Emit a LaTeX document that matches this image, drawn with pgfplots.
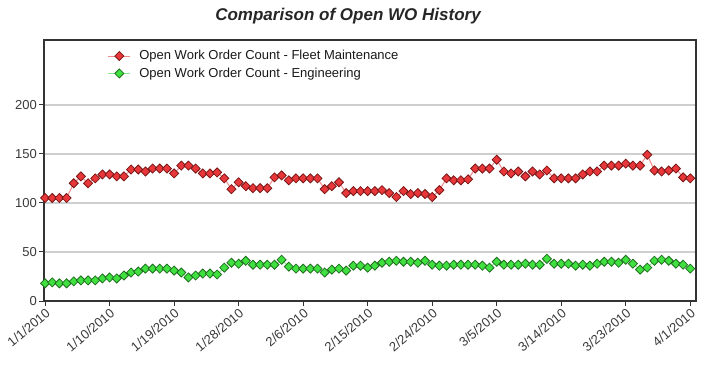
\documentclass[border=0pt]{standalone}
\usepackage{fontspec}
\setmainfont{Liberation Sans}
\usepackage{pgfplots}
\usepackage{pgfplotstable}
\pgfplotsset{compat=1.18}
\definecolor{fmfill}{HTML}{E8373A}
\definecolor{fmdraw}{HTML}{7A1515}
\definecolor{fmline}{HTML}{F08A8A}
\definecolor{enfill}{HTML}{3FE03F}
\definecolor{endraw}{HTML}{1E6E1E}
\definecolor{enline}{HTML}{8CE88C}
\definecolor{gridgray}{HTML}{CFCFCF}
\definecolor{ticktext}{HTML}{3A3A3A}

\pgfplotstableread{
day fleet eng
0 105 18
1 105 19
2 105 18
3 105 18
4 120 20
5 127 21
6 120 21
7 125 21
8 129 23
9 129 24
10 127 23
11 127 26
12 134 29
13 134 30
14 132 33
15 135 33
16 135 33
17 135 33
18 130 31
19 138 29
20 138 24
21 135 26
22 130 28
23 130 28
24 131 27
25 125 34
26 114 39
27 121 38
28 117 41
29 115 37
30 115 37
31 115 37
32 126 37
33 128 42
34 123 35
35 125 33
36 125 33
37 125 33
38 125 33
39 114 29
40 117 32
41 121 33
42 110 31
43 112 36
44 112 36
45 112 34
46 112 36
47 113 39
48 110 40
49 106 41
50 112 40
51 109 40
52 110 39
53 109 41
54 106 37
55 113 36
56 125 36
57 123 37
58 123 37
59 124 37
60 135 37
61 135 36
62 135 34
63 144 40
64 132 37
65 130 37
66 132 37
67 127 38
68 132 37
69 129 37
70 133 43
71 125 38
72 125 38
73 125 38
74 125 36
75 129 37
76 132 36
77 132 38
78 138 40
79 138 40
80 138 39
81 140 42
82 138 38
83 138 32
84 149 34
85 133 41
86 132 42
87 133 41
88 135 38
89 126 37
90 125 33
}\datatable

\begin{document}
\begin{tikzpicture}[x=1pt,y=1pt]
\useasboundingbox[fill=white] (-44,-74) rectangle (681,301);
\node[font=\fontsize{17}{20}\selectfont\bfseries\itshape, text=black!85] at (304,285) {Comparison of Open WO History};
\begin{axis}[
  at={(0,0)}, anchor=south west,
  scale only axis, width=652pt, height=261pt,
  xmin=-0.15, xmax=90.8, ymin=0, ymax=266,
  xtick={0,9,...,90},
  xticklabels={1/1/2010,1/10/2010,1/19/2010,1/28/2010,2/6/2010,2/15/2010,2/24/2010,3/5/2010,3/14/2010,3/23/2010,4/1/2010},
  ytick={0,50,100,150,200},
  ymajorgrids, grid style={gridgray, line width=1.5pt},
  axis line style={black!80, line width=1.2pt},
  tick style={black!80, line width=1pt},
  tick align=outside, major tick length=5pt,
  xtick pos=left, ytick pos=left,
  /pgf/number format/assume math mode=true,
  tick label style={font=\fontsize{13}{15}\selectfont, text=ticktext},
  x tick label style={rotate=40, anchor=north east, inner sep=1pt},
  y tick label style={inner sep=2pt},
  legend style={at={(axis description cs:0.0976,0.966)}, anchor=north west, draw=none, fill=none,
    inner sep=0pt, row sep=3.5pt, column sep=7pt, font=\fontsize{13}{15}\selectfont, text=black!90,
    nodes={inner sep=1.5pt}},
  legend cell align=left,
  legend image code/.code={\draw[mark repeat=2,mark phase=2,#1] plot coordinates {(0pt,0pt) (11pt,0pt) (22pt,0pt)};},
]
\addplot[color=fmline, line width=1pt, mark=square*, mark size=3.2pt,
  mark options={rotate=45, fill=fmfill, draw=fmdraw, line width=0.8pt, solid}]
  table[x=day, y=fleet] {\datatable};
\addlegendentry{Open Work Order Count - Fleet Maintenance}
\addplot[color=enline, line width=1pt, mark=square*, mark size=3.2pt,
  mark options={rotate=45, fill=enfill, draw=endraw, line width=0.8pt, solid}]
  table[x=day, y=eng] {\datatable};
\addlegendentry{Open Work Order Count - Engineering}
\end{axis}
\end{tikzpicture}
\end{document}
